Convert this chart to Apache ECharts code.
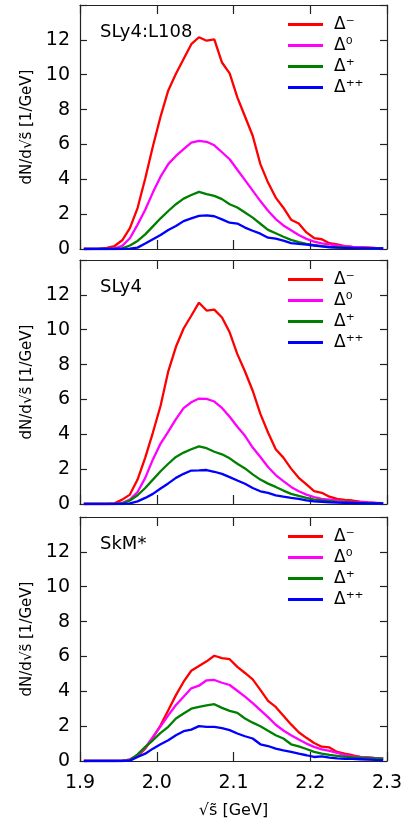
<!DOCTYPE html>
<html>
<head>
<meta charset="utf-8">
<script src="https://cdn.jsdelivr.net/npm/echarts@6/dist/echarts.min.js"></script>
<style>
html,body{margin:0;padding:0;background:#fff;}
#chart{width:411px;height:824px;}
</style>
</head>
<body>
<div id="chart"></div>
<script>
// bin centres of sqrt(s~) [GeV]
const xs = [1.905,1.915,1.925,1.935,1.945,1.955,1.965,1.975,1.985,1.995,
            2.005,2.015,2.025,2.035,2.045,2.055,2.065,2.075,2.085,2.095,
            2.105,2.115,2.125,2.135,2.145,2.155,2.165,2.175,2.185,2.195,
            2.205,2.215,2.225,2.235,2.245,2.255,2.265,2.275,2.285,2.295];

const seriesNames = ['Δ⁻', 'Δ⁰', 'Δ⁺', 'Δ⁺⁺'];
const panelLabels = ['SLy4:L108', 'SLy4', 'SkM*'];
const xTicks = [1.9, 2.0, 2.1, 2.2, 2.3];
const yTicks = [0, 2, 4, 6, 8, 10, 12];

// Panel 1: SLy4:L108
const l108Minus = [0,0,0.02,0.06,0.17,0.5,1.2,2.35,4.05,5.9,7.6,9.1,10.05,10.9,11.75,12.15,11.95,12.03,10.7,10.08,8.7,7.6,6.5,4.87,3.81,2.95,2.37,1.68,1.46,0.95,0.63,0.56,0.33,0.27,0.16,0.12,0.1,0.08,0.05,0.04];
const l108Zero  = [0,0,0,0,0.04,0.18,0.62,1.4,2.25,3.25,4.15,4.87,5.34,5.73,6.1,6.2,6.15,5.95,5.55,5.15,4.55,3.95,3.35,2.75,2.2,1.72,1.35,1.08,0.8,0.58,0.42,0.32,0.26,0.2,0.15,0.12,0.1,0.08,0.06,0.05];
const l108Plus  = [0,0,0,0,0,0.04,0.2,0.46,0.84,1.3,1.76,2.18,2.57,2.89,3.1,3.28,3.15,3.05,2.86,2.57,2.38,2.09,1.8,1.45,1.1,0.9,0.7,0.52,0.4,0.3,0.22,0.16,0.12,0.1,0.08,0.06,0.05,0.04,0.03,0.03];
const l108PP    = [0,0,0,0,0,0,0.02,0.08,0.31,0.56,0.8,1.09,1.32,1.6,1.76,1.9,1.93,1.88,1.7,1.51,1.46,1.23,1.05,0.88,0.65,0.6,0.48,0.34,0.3,0.25,0.2,0.15,0.1,0.08,0.07,0.06,0.05,0.04,0.03,0.03];

// Panel 2: SLy4
const sly4Minus = [0,0,0,0,0.04,0.25,0.54,1.4,2.66,4.1,5.64,7.61,9.02,10.07,10.8,11.55,11.1,11.15,10.7,9.85,8.6,7.6,6.5,5.17,4.1,3.14,2.66,2.03,1.5,1.12,0.74,0.64,0.42,0.3,0.24,0.2,0.13,0.09,0.07,0.05];
const sly4Zero  = [0,0,0,0,0,0.06,0.25,0.69,1.5,2.56,3.47,4.15,4.87,5.5,5.84,6.05,6.03,5.88,5.51,5.01,4.43,3.91,3.24,2.7,2.12,1.66,1.31,0.98,0.73,0.54,0.39,0.3,0.25,0.2,0.15,0.12,0.1,0.08,0.06,0.05];
const sly4Plus  = [0,0,0,0,0,0.04,0.2,0.5,0.92,1.4,1.88,2.31,2.7,2.95,3.14,3.31,3.2,3.0,2.85,2.62,2.31,2.04,1.7,1.4,1.17,0.98,0.77,0.58,0.46,0.35,0.25,0.2,0.16,0.12,0.1,0.08,0.06,0.05,0.04,0.03];
const sly4PP    = [0,0,0,0,0,0,0.03,0.15,0.35,0.58,0.89,1.18,1.5,1.73,1.92,1.93,1.95,1.85,1.73,1.54,1.35,1.16,0.92,0.73,0.64,0.5,0.42,0.35,0.29,0.21,0.15,0.13,0.1,0.08,0.07,0.06,0.05,0.04,0.03,0.03];

// Panel 3: SkM*
const skmMinus = [0,0,0,0,0,0.02,0.08,0.27,0.71,1.34,2.05,2.91,3.78,4.55,5.18,5.45,5.72,6.04,5.9,5.84,5.4,5.05,4.68,4.08,3.45,3.1,2.6,2.1,1.65,1.33,1.03,0.82,0.78,0.52,0.42,0.33,0.23,0.2,0.16,0.13];
const skmZero  = [0,0,0,0,0,0,0.1,0.33,0.77,1.38,1.99,2.62,3.21,3.69,4.17,4.32,4.63,4.65,4.49,4.36,4.03,3.69,3.32,2.92,2.52,2.08,1.75,1.48,1.23,1.0,0.81,0.67,0.58,0.46,0.35,0.27,0.23,0.2,0.17,0.15];
const skmPlus  = [0,0,0,0,0,0,0.05,0.38,0.81,1.19,1.61,1.96,2.44,2.73,3.0,3.11,3.19,3.26,3.05,2.88,2.76,2.44,2.2,1.99,1.73,1.48,1.29,0.96,0.84,0.69,0.52,0.42,0.35,0.29,0.25,0.21,0.19,0.17,0.15,0.13];
const skmPP    = [0,0,0,0,0,0,0.02,0.23,0.42,0.71,0.96,1.19,1.48,1.71,1.8,2.0,1.96,1.96,1.88,1.77,1.58,1.42,1.29,0.96,0.86,0.71,0.61,0.52,0.42,0.33,0.23,0.27,0.19,0.15,0.13,0.12,0.1,0.08,0.06,0.05];

const panels = [
  [l108Minus, l108Zero, l108Plus, l108PP],
  [sly4Minus, sly4Zero, sly4Plus, sly4PP],
  [skmMinus, skmZero, skmPlus, skmPP]
];
const colors = ['#ff0000', '#ff00ff', '#008000', '#0000ff'];

const FONT = 'DejaVu Sans';
const frameColor = '#222';
const gridTops = [5, 260, 517];
const gridH = 244;

const grids = [], xAxes = [], yAxes = [], series = [], legends = [], titles = [];

gridTops.forEach((top, p) => {
  grids.push({left: 80, right: 24, top: top, height: gridH, show: false});
  const isLast = p === gridTops.length - 1;
  // bottom x axis
  xAxes.push({
    type: 'value', gridIndex: p, position: 'bottom', min: xTicks[0], max: xTicks[xTicks.length - 1], interval: 0.1,
    axisLine: {show: true, onZero: false, lineStyle: {color: frameColor, width: 1.2}},
    axisTick: {show: true, inside: true, length: 9, lineStyle: {color: frameColor, width: 1.2}},
    axisLabel: {show: isLast, color: '#000', fontFamily: FONT, fontSize: 19, margin: 13,
      formatter: v => v.toFixed(1)},
    splitLine: {show: false},
    name: isLast ? '√s̃ [GeV]' : '', nameLocation: 'middle', nameGap: 42,
    nameTextStyle: {color: '#000', fontFamily: FONT, fontSize: 16}
  });
  // top x axis
  xAxes.push({
    type: 'value', gridIndex: p, position: 'top', min: xTicks[0], max: xTicks[xTicks.length - 1], interval: 0.1,
    axisLine: {show: true, onZero: false, lineStyle: {color: frameColor, width: 1.2}},
    axisTick: {show: true, inside: true, length: 9, lineStyle: {color: frameColor, width: 1.2}},
    axisLabel: {show: false}, splitLine: {show: false}
  });
  // left y axis
  yAxes.push({
    type: 'value', gridIndex: p, position: 'left', min: 0, max: 14, interval: 2,
    axisLine: {show: true, onZero: false, lineStyle: {color: frameColor, width: 1.2}},
    axisTick: {show: true, inside: true, length: 7, lineStyle: {color: frameColor, width: 1.2}},
    axisLabel: {show: true, color: '#000', fontFamily: FONT, fontSize: 19, margin: 10,
      formatter: v => (yTicks.indexOf(v) >= 0 ? String(v) : '')},
    splitLine: {show: false},
    name: 'dN/d√s̃ [1/GeV]', nameLocation: 'middle', nameGap: 41, nameRotate: 90,
    nameTextStyle: {color: '#000', fontFamily: FONT, fontSize: 15}
  });
  // right y axis
  yAxes.push({
    type: 'value', gridIndex: p, position: 'right', min: 0, max: 14, interval: 2,
    axisLine: {show: true, onZero: false, lineStyle: {color: frameColor, width: 1.2}},
    axisTick: {show: true, inside: true, length: 7, lineStyle: {color: frameColor, width: 1.2}},
    axisLabel: {show: false}, splitLine: {show: false}
  });

  panels[p].forEach((vals, s) => {
    series.push({
      type: 'line', name: seriesNames[s],
      xAxisIndex: p * 2, yAxisIndex: p * 2,
      data: xs.map((x, i) => [x, vals[i]]),
      symbol: 'none', smooth: false, clip: true,
      lineStyle: {color: colors[s], width: 2.3},
      itemStyle: {color: colors[s]},
      z: 2 + s
    });
  });

  legends.push({
    orient: 'vertical', left: 288, top: top + 11, padding: 0, itemWidth: 35, itemHeight: 3, itemGap: 4,
    icon: 'rect', selectedMode: false,
    data: seriesNames,
    textStyle: {color: '#000', fontFamily: FONT, fontSize: 17, padding: [0, 0, 0, 6]}
  });

  titles.push({
    text: panelLabels[p], left: 95, top: top + 13,
    textStyle: {color: '#000', fontFamily: FONT, fontSize: 18, fontWeight: 'normal'}
  });
});

const chart = echarts.init(document.getElementById('chart'), null, {renderer: 'canvas'});
chart.setOption({
  animation: false,
  backgroundColor: '#fff',
  title: titles,
  legend: legends,
  grid: grids,
  xAxis: xAxes,
  yAxis: yAxes,
  series: series
});
</script>
</body>
</html>
